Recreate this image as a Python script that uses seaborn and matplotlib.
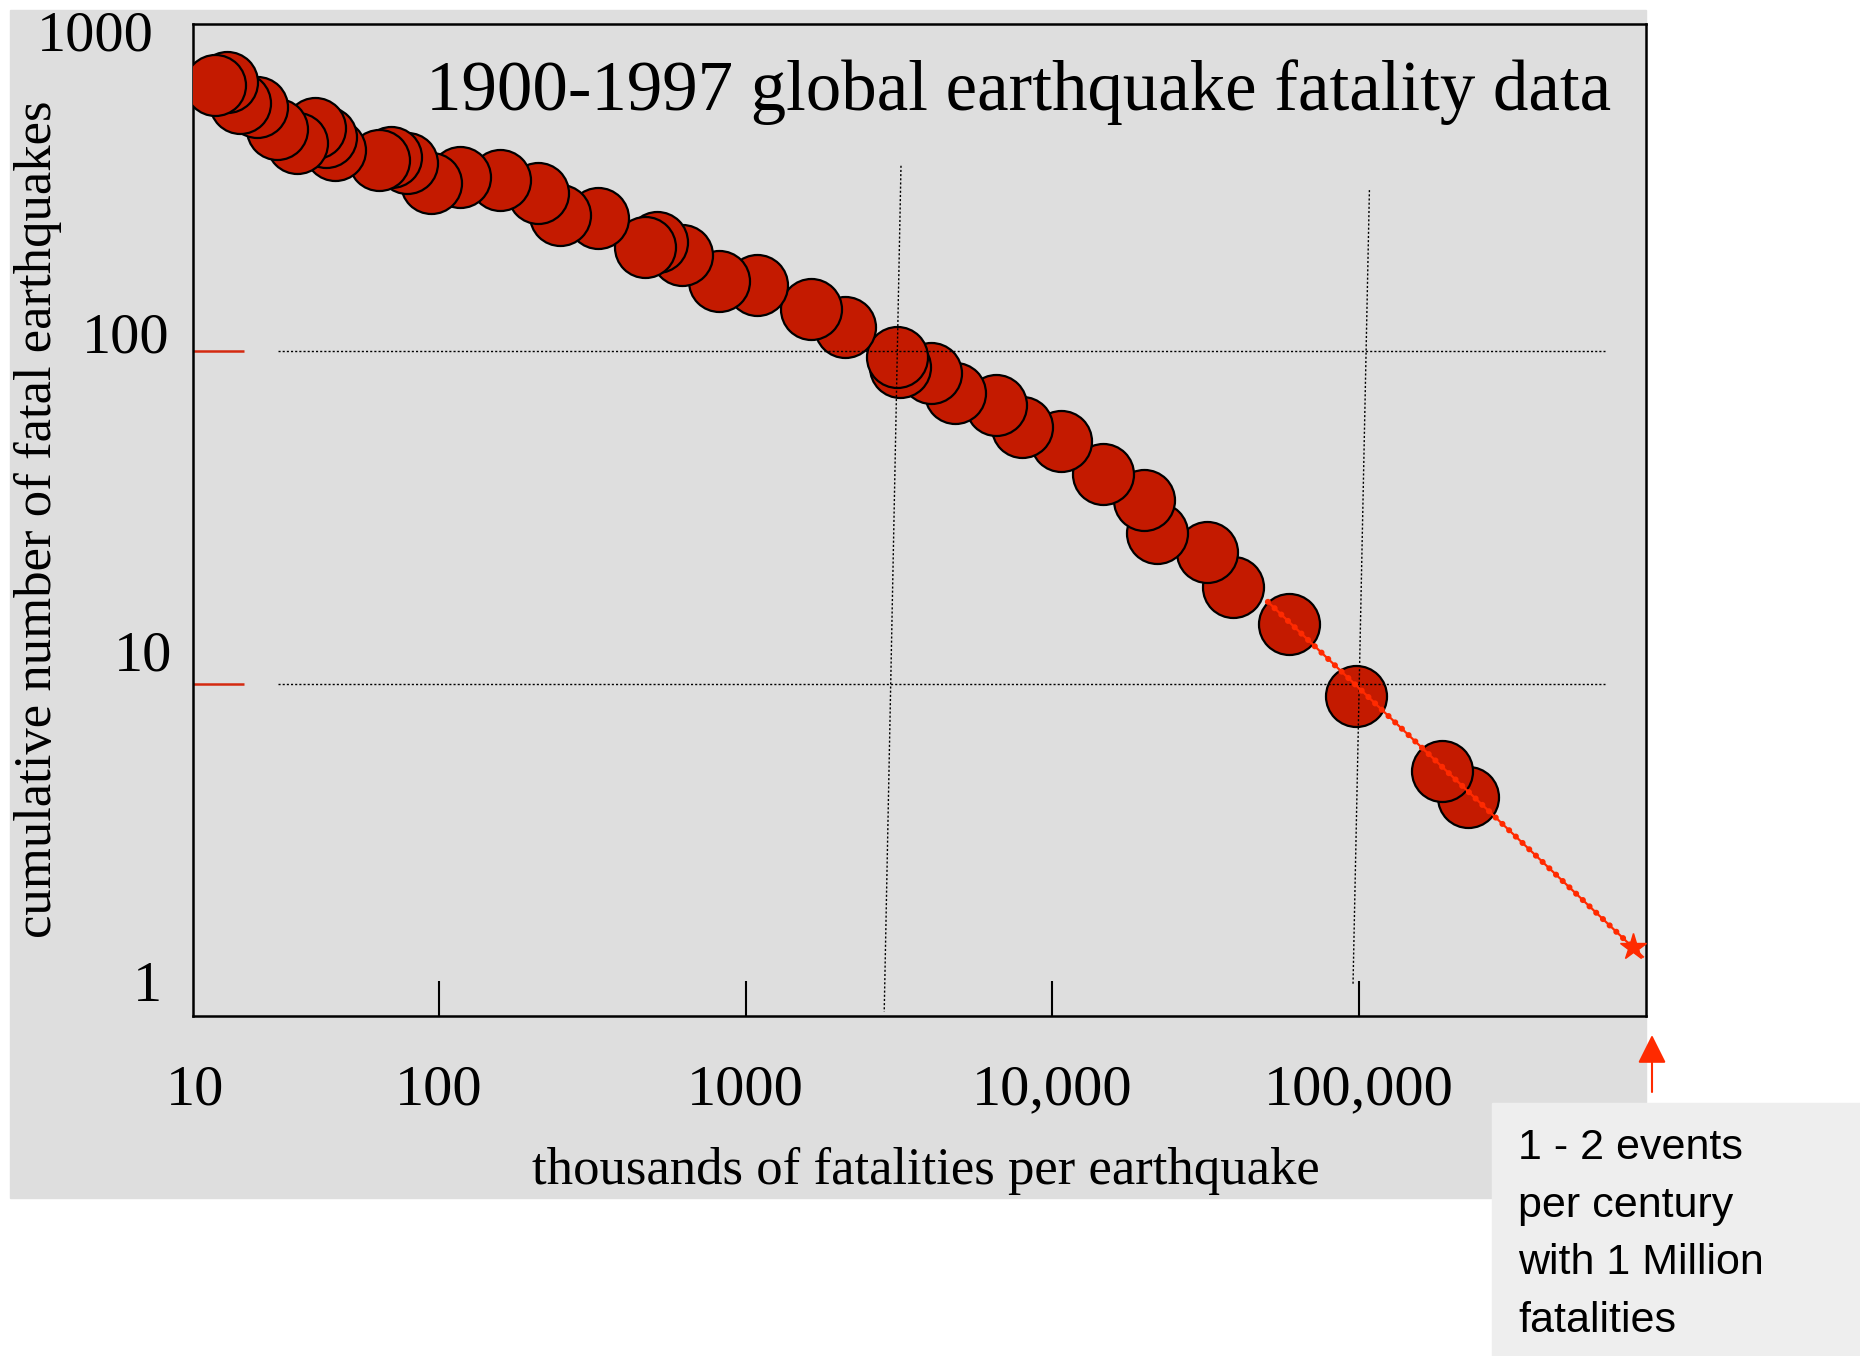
import matplotlib
matplotlib.use("Agg")
import matplotlib.pyplot as plt
import matplotlib.transforms as mtransforms
from matplotlib.patches import Rectangle
from matplotlib.ticker import NullLocator, NullFormatter
import pandas as pd
import seaborn as sns

# 数据：值，最大的地震在前（这样小的圆画在上面）
fatalities = [226000, 186000, 98000, 59000, 38800, 31900, 21900, 19900, 14600,
              10700, 7960, 6550, 4820, 4020, 3190, 3120, 2110, 1630, 1090, 820,
              620, 514, 470, 330, 248, 211, 158, 117, 94, 79, 70, 64, 46, 43,
              39.5, 34.5, 29.7, 25.6, 22.5, 20.4, 18.6]
cumulative = [4.6, 5.5, 9.2, 15.2, 19.6, 25, 28.5, 35.8, 42.9,
              53.8, 59.3, 69, 75, 86, 90, 96, 118, 134, 158, 163,
              195, 213, 206, 252, 257, 299, 327, 334, 321, 368, 384, 376, 403, 441,
              469, 423, 466, 542, 557, 645, 631]

# 外推线 (1 Million)
fit_x = [50400, 841000]
fit_y = [17.7, 1.52]
fit_end_x = [780000]
fit_end_y = [1.63]

# 虚线网格（原图是手画的，略有倾斜）
grid_h_levels = [100, 10]
grid_h_x = [30, 633000]
grid_v_x = [[3210, 2830], [108000, 95500]]
grid_v_y = [[361, 1.04], [305, 1.26]]

x_tick_values = [16.0, 100, 1000, 10000, 100000]
x_tick_labels = ["10", "100", "1000", "10,000", "100,000"]
y_label_values = [1000, 100, 10, 1]
y_label_text = ["1000", "100", "10", "1"]
red_tick_values = [10, 100]

title = "1900-1997 global earthquake fatality data"
x_title = "thousands of fatalities per earthquake"
y_title = "cumulative number of fatal earthquakes"
note_lines = ["1 - 2 events", "per century", "with 1 Million", "fatalities"]

# 布局（像素，原图 1860x1356）
W, H = 1860, 1356
AX_L, AX_R, AX_T, AX_B = 193, 1646, 24, 1016
XLIM = (15.8, 861000)
YLIM = (1.01, 962)
# y 标签偏移 (dx, dy) 点
y_label_offsets = [(-28, -23), (-17, -1), (-15, 10), (-22, 12)]

SERIF = ["Liberation Serif", "DejaVu Serif"]
SANS = ["Liberation Sans", "DejaVu Sans"]
DOT_RED = "#c41a00"
LINE_RED = "#ff2a00"
PANEL = "#dedede"

plt.rcParams["font.family"] = SERIF

fig = plt.figure(figsize=(W / 100, H / 100), dpi=100, facecolor="white")

# 灰色背景面板
fig.add_artist(Rectangle((9.5 / W, 1 - 1198 / H), (1646 - 9.5) / W, (1198 - 9.5) / H,
                         transform=fig.transFigure, color=PANEL, zorder=-2))
# 注释框
fig.add_artist(Rectangle((1492 / W, 0), (W - 1492) / W, (H - 1103) / H,
                         transform=fig.transFigure, color="#eeeeee", zorder=1))

ax = fig.add_axes([AX_L / W, 1 - AX_B / H, (AX_R - AX_L) / W, (AX_B - AX_T) / H])
ax.set_facecolor(PANEL)
ax.set_xscale("log")
ax.set_yscale("log")
ax.set_xlim(*XLIM)
ax.set_ylim(*YLIM)

df = pd.DataFrame({"fatalities": fatalities, "cumulative": cumulative})
sns.scatterplot(data=df, x="fatalities", y="cumulative", ax=ax, s=1930,
                color=DOT_RED, edgecolor="black", linewidth=1.6, zorder=3,
                legend=False)

# 网格
for lvl in grid_h_levels:
    ax.plot(grid_h_x, [lvl, lvl], color="black", lw=1.0, ls=(0, (1.5, 1.5)), zorder=4)
for gx, gy in zip(grid_v_x, grid_v_y):
    ax.plot(gx, gy, color="black", lw=1.0, ls=(0, (1.5, 1.5)), zorder=4)

# 外推线：细实线 + 圆点
ax.plot(fit_x, fit_y, color=LINE_RED, lw=1.6, zorder=5)
ax.plot(fit_x, fit_y, color=LINE_RED, lw=4.4, ls=(0, (0.01, 1.5)),
        dash_capstyle="round", zorder=5)
ax.plot(fit_end_x, fit_end_y, marker="*", ms=20, color=LINE_RED, lw=0, zorder=6,
        clip_on=False)

# 坐标轴
for sp in ax.spines.values():
    sp.set_linewidth(1.8)
    sp.set_color("black")

ax.xaxis.set_minor_locator(NullLocator())
ax.yaxis.set_minor_locator(NullLocator())
ax.xaxis.set_minor_formatter(NullFormatter())
ax.yaxis.set_minor_formatter(NullFormatter())

ax.set_xticks(x_tick_values, labels=x_tick_labels)
ax.tick_params(axis="x", direction="in", length=25, width=1.5, color="black",
               pad=35, labelsize=42)
ax.xaxis.get_major_ticks()[0].tick1line.set_visible(False)

ax.set_yticks(red_tick_values, labels=["" for _ in red_tick_values])
ax.tick_params(axis="y", direction="in", length=37, width=1.8, color="#d42a10")

blend = mtransforms.blended_transform_factory(ax.transAxes, ax.transData)
for val, txt, (dx, dy) in zip(y_label_values, y_label_text, y_label_offsets):
    off = mtransforms.ScaledTranslation(dx / 72, dy / 72, fig.dpi_scale_trans)
    ax.text(0, val, txt, transform=blend + off, ha="right", va="baseline",
            fontsize=42, clip_on=False)

ax.text(0.976, 0.913, title, transform=ax.transAxes, ha="right", va="baseline",
        fontsize=51)

ax.set_xlabel(x_title, fontsize=38, va="top")
ax.xaxis.set_label_coords((926 - AX_L) / (AX_R - AX_L), (AX_B - 1147) / (AX_B - AX_T))
ax.set_ylabel(y_title, fontsize=38, va="center", ha="center")
ax.yaxis.set_label_coords((38 - AX_L) / (AX_R - AX_L), (AX_B - 519) / (AX_B - AX_T))

# 箭头
ax.annotate("", xy=(1652, H - 1035), xycoords="figure pixels",
            xytext=(1652, H - 1092), textcoords="figure pixels",
            arrowprops=dict(arrowstyle="-|>,head_length=0.8,head_width=0.4",
                            color=LINE_RED, lw=1.5, mutation_scale=22,
                            shrinkA=0, shrinkB=0),
            annotation_clip=False)

# 注释文字
for i, line in enumerate(note_lines):
    fig.text(1518 / W, 1 - (1159 + i * 57.7) / H, line, ha="left", va="baseline",
             fontsize=31, family=SANS, zorder=2)

fig.savefig("out.png", dpi=100, facecolor="white")
